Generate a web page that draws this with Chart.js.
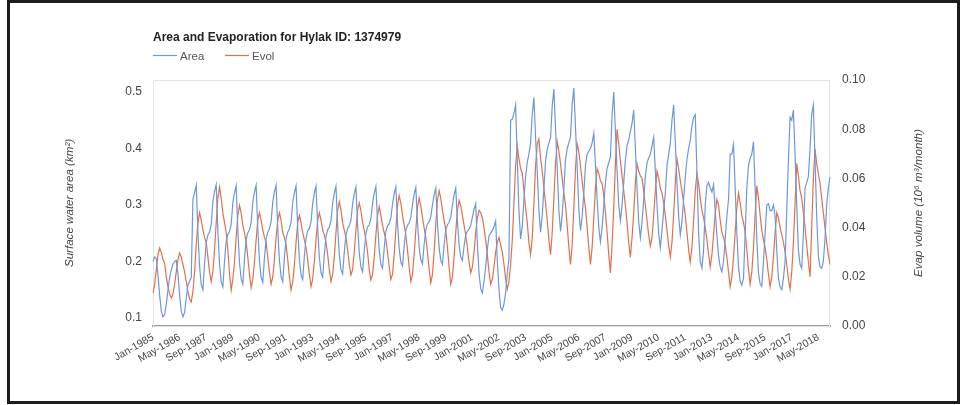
<!DOCTYPE html>
<html>
<head>
<meta charset="utf-8">
<script src="https://cdn.jsdelivr.net/npm/chart.js@4/dist/chart.umd.min.js"></script>
<style>
    body { margin: 0; background: #fff; }
    #wrap { position: relative; width: 967px; height: 405px; }
    #frame {
        position: absolute; left: 7px; top: 0; width: 953px; height: 404px;
        box-sizing: border-box; border: 3px solid #1c1c1c; pointer-events: none;
    }
</style>
</head>
<body>
<div id="wrap">
    <canvas id="chart" width="967" height="405"></canvas>
    <div id="frame"></div>
</div>
<script>
// Data
const monthNames = ['Jan', 'Feb', 'Mar', 'Apr', 'May', 'Jun', 'Jul', 'Aug', 'Sep', 'Oct', 'Nov', 'Dec'];
const firstYear = 1985;
const lastYear = 2018;
const tickEvery = 16;
const areaTicks = [0.1, 0.2, 0.3, 0.4, 0.5];
const evolTicks = [0, 0.02, 0.04, 0.06, 0.08, 0.1];

// Surface water area (km²), one row per year, Jan..Dec
const area = [
    0.200, 0.208, 0.205, 0.175, 0.140, 0.112, 0.102, 0.106, 0.125, 0.150, 0.172, 0.185, // 1985
    0.195, 0.200, 0.202, 0.178, 0.140, 0.112, 0.102, 0.110, 0.135, 0.158, 0.165, 0.172, // 1986
    0.310, 0.322, 0.335, 0.252, 0.191, 0.159, 0.150, 0.197, 0.234, 0.247, 0.252, 0.265, // 1987
    0.306, 0.324, 0.336, 0.255, 0.195, 0.164, 0.155, 0.200, 0.236, 0.248, 0.253, 0.266, // 1988
    0.304, 0.322, 0.334, 0.256, 0.198, 0.169, 0.160, 0.204, 0.239, 0.251, 0.256, 0.269, // 1989
    0.305, 0.323, 0.335, 0.258, 0.201, 0.172, 0.163, 0.206, 0.240, 0.252, 0.258, 0.270, // 1990
    0.305, 0.323, 0.335, 0.258, 0.202, 0.173, 0.164, 0.207, 0.241, 0.252, 0.258, 0.269, // 1991
    0.304, 0.322, 0.334, 0.259, 0.205, 0.176, 0.168, 0.209, 0.242, 0.254, 0.259, 0.270, // 1992
    0.303, 0.321, 0.333, 0.261, 0.207, 0.180, 0.172, 0.212, 0.244, 0.256, 0.261, 0.272, // 1993
    0.303, 0.321, 0.333, 0.263, 0.212, 0.186, 0.178, 0.217, 0.247, 0.258, 0.263, 0.273, // 1994
    0.302, 0.320, 0.332, 0.265, 0.215, 0.190, 0.182, 0.220, 0.250, 0.261, 0.265, 0.276, // 1995
    0.303, 0.321, 0.333, 0.268, 0.220, 0.195, 0.188, 0.224, 0.253, 0.263, 0.267, 0.277, // 1996
    0.302, 0.320, 0.332, 0.269, 0.223, 0.199, 0.192, 0.227, 0.255, 0.264, 0.268, 0.278, // 1997
    0.301, 0.319, 0.331, 0.270, 0.226, 0.203, 0.196, 0.230, 0.256, 0.266, 0.270, 0.279, // 1998
    0.300, 0.318, 0.330, 0.269, 0.225, 0.202, 0.195, 0.229, 0.256, 0.265, 0.269, 0.279, // 1999
    0.300, 0.318, 0.330, 0.272, 0.230, 0.208, 0.202, 0.227, 0.247, 0.254, 0.257, 0.264, // 2000
    0.278, 0.292, 0.302, 0.231, 0.179, 0.152, 0.144, 0.165, 0.190, 0.222, 0.245, 0.250, // 2001
    0.255, 0.262, 0.272, 0.200, 0.150, 0.118, 0.114, 0.125, 0.145, 0.180, 0.205, 0.450, // 2002
    0.452, 0.462, 0.477, 0.380, 0.290, 0.240, 0.262, 0.310, 0.350, 0.376, 0.390, 0.410, // 2003
    0.460, 0.490, 0.420, 0.360, 0.290, 0.252, 0.282, 0.328, 0.378, 0.399, 0.409, 0.419, // 2004
    0.475, 0.505, 0.435, 0.366, 0.291, 0.253, 0.283, 0.329, 0.380, 0.400, 0.410, 0.421, // 2005
    0.478, 0.507, 0.437, 0.368, 0.293, 0.255, 0.280, 0.320, 0.370, 0.390, 0.395, 0.400, // 2006
    0.410, 0.427, 0.370, 0.310, 0.260, 0.235, 0.260, 0.300, 0.340, 0.365, 0.375, 0.385, // 2007
    0.460, 0.500, 0.430, 0.360, 0.300, 0.272, 0.300, 0.340, 0.380, 0.405, 0.415, 0.430, // 2008
    0.445, 0.468, 0.400, 0.330, 0.270, 0.242, 0.270, 0.310, 0.350, 0.375, 0.383, 0.390, // 2009
    0.405, 0.420, 0.360, 0.300, 0.250, 0.224, 0.255, 0.290, 0.320, 0.370, 0.390, 0.410, // 2010
    0.450, 0.477, 0.410, 0.340, 0.280, 0.247, 0.270, 0.310, 0.350, 0.380, 0.400, 0.415, // 2011
    0.440, 0.455, 0.460, 0.360, 0.250, 0.200, 0.188, 0.220, 0.300, 0.334, 0.340, 0.330, // 2012
    0.323, 0.336, 0.290, 0.247, 0.210, 0.190, 0.182, 0.200, 0.240, 0.280, 0.310, 0.390, // 2013
    0.390, 0.407, 0.330, 0.250, 0.190, 0.165, 0.158, 0.170, 0.250, 0.330, 0.370, 0.383, // 2014
    0.390, 0.412, 0.330, 0.240, 0.180, 0.160, 0.156, 0.200, 0.250, 0.300, 0.302, 0.290, // 2015
    0.290, 0.300, 0.280, 0.220, 0.170, 0.155, 0.150, 0.170, 0.200, 0.290, 0.380, 0.455, // 2016
    0.450, 0.468, 0.390, 0.300, 0.220, 0.195, 0.188, 0.250, 0.330, 0.340, 0.350, 0.400, // 2017
    0.460, 0.477, 0.380, 0.280, 0.210, 0.190, 0.188, 0.200, 0.240, 0.300, 0.330, 0.350  // 2018
];

// Evaporation volume (10⁶ m³/month), one row per year, Jan..Dec
const evol = [
    0.0134, 0.017, 0.023, 0.029, 0.0317, 0.030, 0.027, 0.0256, 0.020, 0.016, 0.013, 0.0114, // 1985
    0.013, 0.017, 0.022, 0.027, 0.0297, 0.028, 0.025, 0.022, 0.018, 0.014, 0.011, 0.0098,   // 1986
    0.014, 0.022, 0.033, 0.042, 0.046, 0.043, 0.039, 0.036, 0.034, 0.028, 0.022, 0.018,     // 1987
    0.022, 0.031, 0.042, 0.052, 0.0565, 0.052, 0.046, 0.042, 0.038, 0.031, 0.021, 0.0146,   // 1988
    0.019, 0.026, 0.036, 0.045, 0.049, 0.046, 0.041, 0.038, 0.034, 0.028, 0.021, 0.0156,    // 1989
    0.019, 0.026, 0.035, 0.043, 0.046, 0.043, 0.039, 0.036, 0.034, 0.028, 0.022, 0.017,     // 1990
    0.020, 0.027, 0.036, 0.043, 0.046, 0.043, 0.038, 0.036, 0.033, 0.027, 0.020, 0.0146,    // 1991
    0.018, 0.025, 0.034, 0.042, 0.045, 0.042, 0.038, 0.035, 0.032, 0.027, 0.021, 0.016,     // 1992
    0.019, 0.026, 0.035, 0.043, 0.046, 0.043, 0.039, 0.037, 0.034, 0.029, 0.023, 0.018,     // 1993
    0.021, 0.028, 0.038, 0.047, 0.0505, 0.047, 0.042, 0.039, 0.036, 0.031, 0.025, 0.0207,   // 1994
    0.023, 0.030, 0.039, 0.047, 0.050, 0.047, 0.042, 0.039, 0.035, 0.030, 0.023, 0.0187,    // 1995
    0.021, 0.028, 0.037, 0.045, 0.0485, 0.045, 0.041, 0.038, 0.035, 0.030, 0.024, 0.019,    // 1996
    0.021, 0.029, 0.039, 0.049, 0.053, 0.050, 0.045, 0.041, 0.037, 0.031, 0.024, 0.018,     // 1997
    0.021, 0.029, 0.039, 0.048, 0.052, 0.049, 0.044, 0.040, 0.036, 0.030, 0.023, 0.0175,    // 1998
    0.021, 0.030, 0.041, 0.051, 0.055, 0.052, 0.047, 0.043, 0.039, 0.032, 0.024, 0.017,     // 1999
    0.020, 0.028, 0.038, 0.047, 0.051, 0.049, 0.045, 0.041, 0.037, 0.032, 0.026, 0.0216,    // 2000
    0.024, 0.030, 0.038, 0.044, 0.047, 0.046, 0.044, 0.040, 0.035, 0.029, 0.022, 0.017,     // 2001
    0.019, 0.024, 0.030, 0.034, 0.036, 0.033, 0.030, 0.025, 0.019, 0.015, 0.018, 0.025,     // 2002
    0.035, 0.050, 0.065, 0.073, 0.068, 0.064, 0.062, 0.055, 0.048, 0.042, 0.034, 0.029,     // 2003
    0.036, 0.050, 0.065, 0.074, 0.076, 0.068, 0.063, 0.056, 0.050, 0.043, 0.035, 0.029,     // 2004
    0.038, 0.052, 0.066, 0.075, 0.071, 0.066, 0.060, 0.054, 0.049, 0.041, 0.032, 0.025,     // 2005
    0.033, 0.048, 0.064, 0.074, 0.071, 0.065, 0.059, 0.053, 0.048, 0.040, 0.032, 0.025,     // 2006
    0.032, 0.044, 0.056, 0.064, 0.062, 0.059, 0.058, 0.053, 0.046, 0.038, 0.029, 0.0216,    // 2007
    0.033, 0.048, 0.066, 0.080, 0.074, 0.067, 0.061, 0.055, 0.049, 0.042, 0.034, 0.028,     // 2008
    0.036, 0.046, 0.058, 0.066, 0.063, 0.061, 0.060, 0.055, 0.049, 0.043, 0.037, 0.0325,    // 2009
    0.036, 0.045, 0.055, 0.063, 0.060, 0.056, 0.054, 0.050, 0.045, 0.039, 0.033, 0.028,     // 2010
    0.034, 0.045, 0.058, 0.068, 0.064, 0.059, 0.055, 0.050, 0.045, 0.038, 0.031, 0.026,     // 2011
    0.032, 0.043, 0.055, 0.062, 0.058, 0.052, 0.047, 0.044, 0.040, 0.035, 0.029, 0.024,     // 2012
    0.029, 0.037, 0.046, 0.0515, 0.049, 0.043, 0.038, 0.036, 0.033, 0.028, 0.022, 0.016,    // 2013
    0.020, 0.028, 0.038, 0.048, 0.054, 0.050, 0.045, 0.042, 0.038, 0.031, 0.023, 0.017,     // 2014
    0.022, 0.032, 0.045, 0.057, 0.052, 0.045, 0.039, 0.035, 0.032, 0.027, 0.021, 0.016,     // 2015
    0.020, 0.028, 0.038, 0.046, 0.044, 0.040, 0.037, 0.034, 0.030, 0.025, 0.019, 0.015,     // 2016
    0.022, 0.034, 0.050, 0.066, 0.061, 0.055, 0.052, 0.046, 0.040, 0.033, 0.026, 0.020,     // 2017
    0.040, 0.060, 0.072, 0.066, 0.062, 0.058, 0.052, 0.046, 0.040, 0.034, 0.029, 0.025      // 2018
];

// Labels "Jan-1985" ... "Dec-2018"
const labels = [];
for (let y = firstYear; y <= lastYear; y++) {
    monthNames.forEach(m => labels.push(`${m}-${y}`));
}

const FONT = '"Liberation Sans", Arial, sans-serif';
const blue = '#6d97dd';
const red = '#e2704d';

// Title, legend, plot frame and rotated axis titles
const decorPlugin = {
    id: 'decor',
    beforeDatasetsDraw(chart) {
        const { ctx, chartArea: a } = chart;
        ctx.save();
        ctx.strokeStyle = '#e3e3e3';
        ctx.lineWidth = 1;
        ctx.strokeRect(a.left + 0.5, a.top + 0.5, a.right - a.left - 1, a.bottom - a.top);
        ctx.restore();
    },
    afterDraw(chart) {
        const { ctx, chartArea: a } = chart;
        ctx.save();
        ctx.fillStyle = '#222';
        ctx.font = `bold 12px ${FONT}`;
        ctx.textBaseline = 'alphabetic';
        ctx.fillText('Area and Evaporation for Hylak ID: 1374979', a.left, 41);

        // legend
        ctx.font = `11.5px ${FONT}`;
        ctx.fillStyle = '#555';
        ctx.lineWidth = 1.2;
        [['Area', blue, a.left], ['Evol', red, a.left + 72]].forEach(([txt, col, x]) => {
            ctx.strokeStyle = col;
            ctx.beginPath();
            ctx.moveTo(x, 55.5);
            ctx.lineTo(x + 24, 55.5);
            ctx.stroke();
            ctx.fillText(txt, x + 27, 59.5);
        });

        // axis titles, both read bottom to top
        ctx.font = `italic 11.6px ${FONT}`;
        ctx.fillStyle = '#444';
        ctx.textAlign = 'center';
        ctx.textBaseline = 'middle';
        const midY = (a.top + a.bottom) / 2;
        [['Surface water area (km²)', 70], ['Evap volume (10⁶ m³/month)', 919]].forEach(([txt, x]) => {
            ctx.save();
            ctx.translate(x, midY);
            ctx.rotate(-Math.PI / 2);
            ctx.fillText(txt, 0, 0);
            ctx.restore();
        });
        ctx.restore();
    }
};

const ctx = document.getElementById('chart').getContext('2d');
new Chart(ctx, {
    type: 'line',
    data: {
        labels: labels,
        datasets: [
            {
                label: 'Area',
                data: area,
                yAxisID: 'yArea',
                borderColor: blue,
                borderWidth: 1.2,
                pointRadius: 0,
                tension: 0
            },
            {
                label: 'Evol',
                data: evol,
                yAxisID: 'yEvol',
                borderColor: red,
                borderWidth: 1.2,
                pointRadius: 0,
                tension: 0
            }
        ]
    },
    options: {
        responsive: false,
        animation: false,
        layout: { padding: { top: 80, left: 0, right: 0, bottom: 0 } },
        plugins: {
            legend: { display: false },
            tooltip: { enabled: false }
        },
        scales: {
            x: {
                grid: { display: false, drawTicks: false },
                border: { display: true, color: '#9a9a9a', width: 2 },
                ticks: {
                    autoSkip: false,
                    minRotation: 30,
                    maxRotation: 30,
                    padding: 5,
                    color: '#444',
                    font: { family: FONT, size: 10.5 },
                    callback: (v, i) => (i % tickEvery === 0 ? labels[i] : '')
                },
                afterFit: s => { s.height = 79; }
            },
            yArea: {
                position: 'left',
                min: 0.0858,
                max: 0.5212,
                afterBuildTicks: s => { s.ticks = areaTicks.map(v => ({ value: v })); },
                grid: { display: false, drawTicks: false },
                border: { display: false },
                ticks: {
                    padding: 11,
                    color: '#444',
                    font: { family: FONT, size: 12 },
                    callback: v => v.toFixed(1)
                },
                afterFit: s => { s.width = 153; }
            },
            yEvol: {
                position: 'right',
                min: 0,
                max: 0.1,
                afterBuildTicks: s => { s.ticks = evolTicks.map(v => ({ value: v })); },
                grid: { display: false, drawTicks: false },
                border: { display: false },
                ticks: {
                    padding: 12,
                    color: '#444',
                    font: { family: FONT, size: 12 },
                    callback: v => v.toFixed(2)
                },
                afterFit: s => { s.width = 137; }
            }
        }
    },
    plugins: [decorPlugin]
});
</script>
</body>
</html>
